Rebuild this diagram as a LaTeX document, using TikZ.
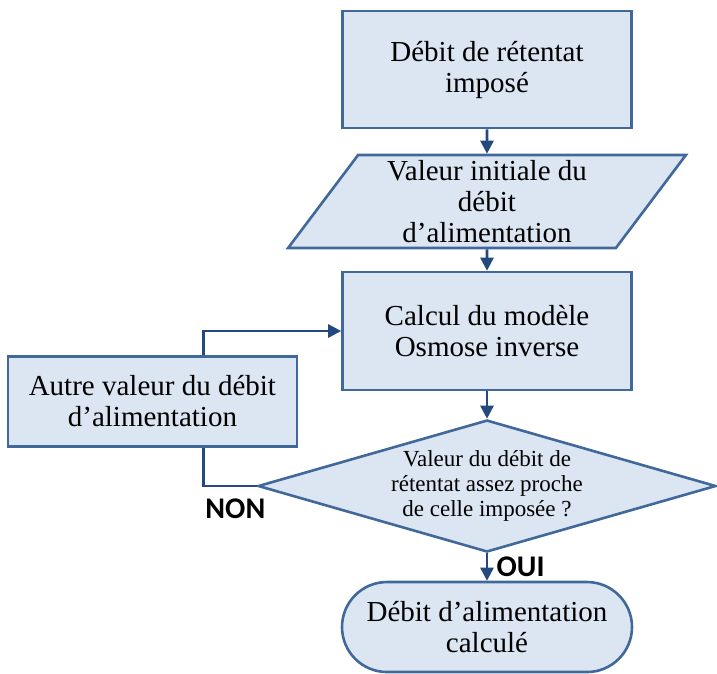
\documentclass[tikz,border=0pt]{standalone}
\usepackage{fontspec}
\setmainfont{Liberation Serif}
\newfontfamily\calibri{Carlito}
\usepackage{tikz}
\usetikzlibrary{arrows.meta, positioning, calc, shapes}
\definecolor{boxfill}{HTML}{DCE6F2}
\definecolor{boxline}{HTML}{41689A}
\definecolor{linkblue}{HTML}{24497E}

\begin{document}
\begin{tikzpicture}[x=1pt, y=1pt, >={Triangle[width=13pt, length=13pt]},
            base/.style={draw=boxline, fill=boxfill, line width=2.6pt, align=center, inner sep=0pt, font=\fontsize{29}{31}\selectfont},
            box/.style={base, rectangle, minimum width=289pt, minimum height=117pt},
            para/.style={base, trapezium, trapezium left angle=49, trapezium right angle=131, trapezium stretches=true, minimum width=399pt, minimum height=93pt, inner ysep=-10pt},
            decision/.style={base, diamond, aspect=3.47, minimum width=458pt, minimum height=132pt, inner sep=-8pt, font=\fontsize{23}{25}\selectfont},
            term/.style={base, rectangle, rounded corners=45pt, minimum width=290pt, minimum height=90pt},
            link/.style={draw=linkblue, line width=2.6pt},
            tag/.style={font=\calibri\bfseries\fontsize{30}{32}\selectfont}]

            \useasboundingbox (0,0) rectangle (717,-673);

            \node[box] (impose) at (487,-69.5) {Débit de rétentat\\imposé};
            \node[para, below=24.4pt of impose] (init) {Valeur initiale du\\débit\\d’alimentation};
            \node[box, minimum height=118pt, below=21.4pt of init] (calc) {Calcul du modèle\\Osmose inverse};
            \node[decision, below=27.4pt of calc] (test) {Valeur du débit de\\rétentat assez proche\\de celle imposée ?};
            \node[term, below=27.4pt of test] (fin) {Débit d’alimentation\\calculé};
            \node[box, minimum height=90pt, anchor=north east] (autre) at ($(calc.west)+(-43,-24)$) {Autre valeur du débit\\d’alimentation};

            \draw[link, ->] (impose) -- (init);
            \draw[link, ->] (init) -- (calc);
            \draw[link, ->] (calc) -- (test);
            \draw[link, ->] (test) -- (fin) node[tag, midway, right=5pt] {OUI};
            \draw[link] (test.west) -| ([xshift=51pt]autre.south) node[tag, pos=0.2, below, yshift=-8pt] {NON};
            \draw[link, ->] ([xshift=51pt]autre.north) |- (calc.west);
        \end{tikzpicture}
\end{document}
